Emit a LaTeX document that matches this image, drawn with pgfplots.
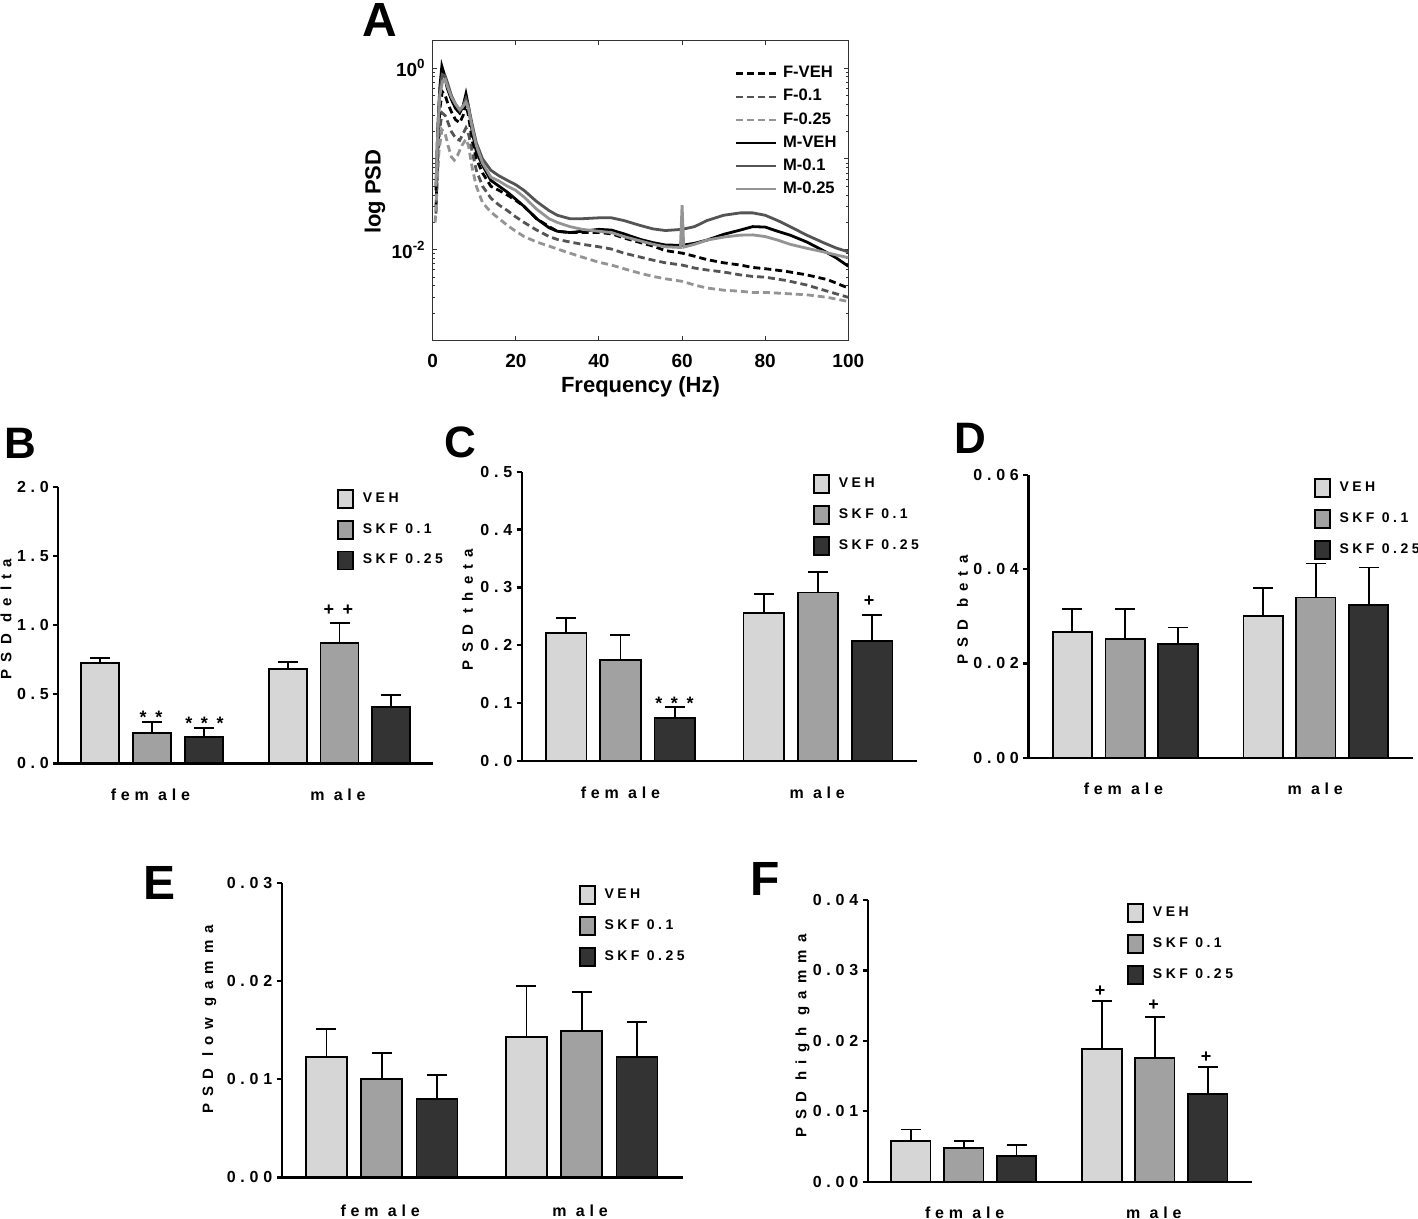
\documentclass[border=0pt]{standalone}
\usepackage{fontspec}
\setmainfont{Liberation Sans}
\newfontfamily\spacedfont[LetterSpace=30]{Liberation Sans}
\newfontfamily\legfont[LetterSpace=25]{Liberation Sans}
\newfontfamily\spacedlab[LetterSpace=48]{Liberation Sans}
\usepackage{pgfplots}
\pgfplotsset{compat=1.18}

\definecolor{cveh}{gray}{0.84}
\definecolor{csa}{gray}{0.63}
\definecolor{csb}{gray}{0.2}
\definecolor{dg}{gray}{0.33}
\definecolor{lg}{gray}{0.58}

\pgfplotsset{
  barleg/.style={legend image code/.code={\draw[##1, line width=0.9pt] (0pt,-4.5pt) rectangle (7.5pt,4.5pt);}},
  barpanel/.style={
    scale only axis, axis on top, clip=false,
    axis x line*=bottom, axis y line*=left,
    axis line style={line width=1.2pt, -},
    xtick=\empty, xmin=0.5, xmax=2.5,
    ymin=0, scaled y ticks=false,
    ytick style={line width=1.2pt, black},
    tick align=outside, major tick length=2.5pt,
    yticklabel style={font=\spacedfont\bfseries\fontsize{8}{9}\selectfont, inner sep=0pt, xshift=-2pt},
    legend style={draw=none, fill=none, inner sep=0pt, anchor=north west, row sep=5.5pt,
      column sep=4.5pt, font=\legfont\bfseries\fontsize{7}{8}\selectfont, nodes={inner sep=0pt}},
    legend cell align=left,
    error bars/y dir=plus, error bars/y explicit,
    error bars/error bar style={line width=0.9pt, black},
    error bars/error mark options={rotate=90, mark size=5pt, line width=0.9pt, black},
  },
  bveh/.style={fill=cveh, draw=black, line width=0.9pt, barleg},
  bsa/.style={fill=csa, draw=black, line width=0.9pt, barleg},
  bsb/.style={fill=csb, draw=black, line width=0.9pt, barleg},
}

\begin{document}
\begin{tikzpicture}
\useasboundingbox (0pt,0pt) rectangle (709pt,-609.5pt);

% ---------------- Panel A ----------------
\begin{axis}[
  at={(216.35pt,-170.35pt)}, anchor=south west, scale only axis,
  width=207.8pt, height=150pt,
  xmin=0, xmax=100, ymode=log, ymin=1e-3, ymax=2,
  xtick={0,20,40,60,80,100}, xticklabels={0,20,40,60,80,100},
  ytick={0.001,0.01,0.1,1}, yticklabels={,10\textsuperscript{-2},,10\textsuperscript{0}},
  tick label style={font=\bfseries\fontsize{9.5}{11}\selectfont},
  xticklabel style={yshift=-3pt},
  axis line style={line width=0.5pt, black!80},
  tick style={line width=0.5pt, black!80},
  major tick length=2.2pt, minor tick length=1.3pt,
  legend style={at={(0.727,0.916)}, anchor=north west, draw=none, fill=none, inner sep=0pt,
    row sep=4.3pt, column sep=2.8pt, font=\bfseries\fontsize{8.3}{9}\selectfont, nodes={inner sep=0pt}},
  legend cell align=left,
  legend image code/.code={\draw[#1, line width=1.1pt] (0pt,0pt) -- (20pt,0pt);},
]
% F-VEH
\addplot[black, line width=1.4pt, dash pattern=on 3.5pt off 2pt] coordinates {
(0.8,0.03) (1.2,0.12) (1.7,0.35) (2.3,0.55) (3,0.5) (3.7,0.4) (4.5,0.33) (5.5,0.27) (6.5,0.25)
(7.3,0.3) (8,0.4) (8.6,0.3) (9.5,0.16) (10.5,0.1) (12,0.07) (14,0.05) (16,0.045) (18,0.04)
(20,0.035) (22,0.03) (25,0.022) (28,0.018) (30,0.016) (33,0.0155) (36,0.0155) (40,0.0155)
(43,0.015) (46,0.0135) (50,0.012) (53,0.011) (56,0.0098) (60,0.0092) (63,0.0085) (66,0.0078)
(70,0.0072) (74,0.0068) (77,0.0064) (80,0.0062) (85,0.0058) (90,0.0053) (95,0.0047) (100,0.0038)};
% F-0.1
\addplot[dg, line width=1.4pt, dash pattern=on 3.5pt off 2pt] coordinates {
(0.8,0.025) (1.2,0.09) (1.7,0.22) (2.3,0.32) (3,0.3) (3.7,0.25) (4.5,0.2) (5.5,0.17) (6.5,0.16)
(7.3,0.19) (8,0.22) (8.6,0.19) (9.5,0.12) (10.5,0.075) (12,0.05) (14,0.037) (16,0.031) (18,0.027)
(20,0.023) (22,0.02) (25,0.0165) (28,0.014) (30,0.013) (33,0.0122) (36,0.0115) (40,0.0108)
(43,0.0102) (46,0.0092) (50,0.0083) (53,0.0077) (56,0.0072) (60,0.0068) (63,0.0063) (66,0.006)
(70,0.0057) (74,0.0053) (77,0.0051) (80,0.005) (85,0.0046) (90,0.0041) (95,0.0035) (100,0.003)};
% F-0.25
\addplot[lg, line width=1.4pt, dash pattern=on 3.5pt off 2pt] coordinates {
(0.6,0.02) (1,0.045) (1.5,0.12) (2.2,0.21) (3,0.19) (3.7,0.14) (4.5,0.105) (5.2,0.097) (6,0.11)
(7,0.14) (8,0.165) (8.6,0.14) (9.5,0.08) (10.5,0.05) (12,0.033) (14,0.026) (16,0.022) (18,0.0185)
(20,0.016) (22,0.014) (25,0.0122) (28,0.011) (30,0.0102) (33,0.0092) (36,0.0083) (40,0.0073)
(43,0.0068) (46,0.0062) (50,0.0055) (53,0.0051) (56,0.0048) (60,0.0045) (63,0.0041) (66,0.0038)
(70,0.0036) (74,0.0035) (77,0.0034) (80,0.0034) (85,0.0033) (90,0.0032) (95,0.003) (100,0.0027)};
% M-VEH
\addplot[black, line width=1.4pt] coordinates {
(0.8,0.045) (1.2,0.2) (1.7,0.6) (2.2,1.05) (2.8,0.85) (3.5,0.6) (4.5,0.45) (5.5,0.36) (6.5,0.32)
(7.3,0.38) (8,0.52) (8.6,0.38) (9.5,0.2) (10.5,0.12) (12,0.085) (14,0.058) (16,0.05) (18,0.043)
(20,0.036) (22,0.03) (25,0.022) (28,0.0175) (30,0.016) (33,0.0155) (36,0.016) (40,0.0168)
(43,0.0165) (46,0.015) (50,0.013) (53,0.012) (56,0.0113) (60,0.0112) (63,0.0118) (66,0.0128)
(70,0.0148) (74,0.0165) (77,0.018) (80,0.0178) (83,0.016) (86,0.0145) (90,0.0122) (94,0.0098)
(97,0.0082) (100,0.0066)};
% M-0.1
\addplot[dg, line width=1.4pt] coordinates {
(0.8,0.05) (1.2,0.2) (1.7,0.55) (2.3,0.85) (3,0.82) (3.5,0.7) (4.5,0.5) (5.5,0.4) (6.5,0.34)
(7.3,0.38) (8,0.46) (8.6,0.38) (9.5,0.24) (10.5,0.15) (12,0.1) (14,0.075) (16,0.065) (18,0.058)
(20,0.052) (22,0.045) (25,0.034) (28,0.027) (30,0.024) (33,0.022) (36,0.022) (40,0.0225)
(43,0.0225) (46,0.021) (50,0.0185) (53,0.017) (56,0.0163) (60,0.0168) (63,0.018) (66,0.021)
(70,0.024) (74,0.0255) (77,0.0255) (80,0.024) (83,0.021) (86,0.018) (90,0.0145) (94,0.012)
(97,0.0105) (100,0.0095)};
% M-0.25
\addplot[lg, line width=1.4pt] coordinates {
(0.8,0.05) (1.2,0.18) (1.7,0.5) (2.4,0.72) (3,0.75) (3.7,0.6) (4.5,0.48) (5.5,0.4) (6.5,0.35)
(7.3,0.38) (8,0.42) (8.6,0.36) (9.5,0.22) (10.5,0.14) (12,0.09) (14,0.063) (16,0.057) (18,0.05)
(20,0.045) (22,0.038) (25,0.028) (28,0.022) (30,0.02) (33,0.018) (36,0.0168) (40,0.016)
(43,0.0155) (46,0.014) (50,0.0125) (53,0.0115) (56,0.0108) (59.6,0.0106) (60,0.031) (60.4,0.0107)
(63,0.0115) (66,0.0128) (70,0.0138) (74,0.0145) (77,0.0146) (80,0.014) (83,0.0128) (86,0.0115)
(90,0.0104) (94,0.0095) (97,0.0088) (100,0.0082)};
\legend{F-VEH,F-0.1,F-0.25,M-VEH,M-0.1,M-0.25}
\end{axis}

% ---------------- Panel B ----------------
\begin{axis}[barpanel,
  at={(29.15pt,-381.65pt)}, anchor=south west, width=187.5pt, height=138.3pt,
  ymax=2, ytick={0,0.5,1,1.5,2}, yticklabels={0.0,0.5,1.0,1.5,2.0},
  ybar=6.85pt, bar width=19pt,
  legend style={at={(0.7424,0.9928)}},
]
\addplot[bveh] coordinates {(1,0.723) +- (0,0.036) (2,0.682) +- (0,0.048)};
\addplot[bsa] coordinates {(1,0.221) +- (0,0.080) (2,0.872) +- (0,0.145)};
\addplot[bsb] coordinates {(1,0.192) +- (0,0.061) (2,0.409) +- (0,0.085)};
\legend{VEH,SKF 0.1,SKF 0.25}
\end{axis}

% ---------------- Panel C ----------------
\begin{axis}[barpanel,
  at={(260.85pt,-380.35pt)}, anchor=south west, width=197.5pt, height=144.5pt,
  ymax=0.5, ytick={0,0.1,0.2,0.3,0.4,0.5}, yticklabels={0.0,0.1,0.2,0.3,0.4,0.5},
  ybar=6.9pt, bar width=20.25pt,
  legend style={at={(0.7367,0.993)}},
]
\addplot[bveh] coordinates {(1,0.2215) +- (0,0.025) (2,0.256) +- (0,0.032)};
\addplot[bsa] coordinates {(1,0.174) +- (0,0.043) (2,0.291) +- (0,0.035)};
\addplot[bsb] coordinates {(1,0.0744) +- (0,0.018) (2,0.207) +- (0,0.0445)};
\legend{VEH,SKF 0.1,SKF 0.25}
\end{axis}

% ---------------- Panel D ----------------
\begin{axis}[barpanel,
  at={(514.15pt,-378.85pt)}, anchor=south west, width=192.2pt, height=141.35pt,
  xmin=0.492, xmax=2.508,
  ymax=0.06, ytick={0,0.02,0.04,0.06}, yticklabels={0.00,0.02,0.04,0.06},
  ybar=6.75pt, bar width=19.65pt,
  legend style={at={(0.7414,0.9904)}},
]
\addplot[bveh] coordinates {(1,0.02675) +- (0,0.0048) (2,0.0301) +- (0,0.0059)};
\addplot[bsa] coordinates {(1,0.0252) +- (0,0.0064) (2,0.034) +- (0,0.0072)};
\addplot[bsb] coordinates {(1,0.02414) +- (0,0.0035) (2,0.03236) +- (0,0.008)};
\legend{VEH,SKF 0.1,SKF 0.25}
\end{axis}

% ---------------- Panel E ----------------
\begin{axis}[barpanel,
  at={(140.85pt,-588.65pt)}, anchor=south west, width=200.5pt, height=147.3pt,
  xmin=0.5, xmax=2.505,
  ymax=0.03, ytick={0,0.01,0.02,0.03}, yticklabels={0.00,0.01,0.02,0.03},
  ybar=7.15pt, bar width=20.5pt,
  legend style={at={(0.7397,0.9922)}},
]
\addplot[bveh] coordinates {(1,0.01228) +- (0,0.0028) (2,0.01432) +- (0,0.0052)};
\addplot[bsa] coordinates {(1,0.00998) +- (0,0.0027) (2,0.0149) +- (0,0.0040)};
\addplot[bsb] coordinates {(1,0.0080) +- (0,0.0024) (2,0.01228) +- (0,0.0035)};
\legend{VEH,SKF 0.1,SKF 0.25}
\end{axis}

% ---------------- Panel F ----------------
\begin{axis}[barpanel,
  at={(433.85pt,-590.85pt)}, anchor=south west, width=192pt, height=140.85pt,
  xmin=0.498, xmax=2.507,
  ymax=0.04, ytick={0,0.01,0.02,0.03,0.04}, yticklabels={0.00,0.01,0.02,0.03,0.04},
  ybar=6.7pt, bar width=19.75pt,
  legend style={at={(0.6745,0.99)}},
]
\addplot[bveh] coordinates {(1,0.00582) +- (0,0.0016) (2,0.01889) +- (0,0.0068)};
\addplot[bsa] coordinates {(1,0.00474) +- (0,0.0010) (2,0.01762) +- (0,0.0058)};
\addplot[bsb] coordinates {(1,0.00369) +- (0,0.0015) (2,0.0125) +- (0,0.0038)};
\legend{VEH,SKF 0.1,SKF 0.25}
\end{axis}

% ---------------- text ----------------
\tikzset{plet/.style={anchor=base, font=\bfseries\fontsize{22}{24}\selectfont},
  pletb/.style={anchor=base, font=\bfseries\fontsize{24}{26}\selectfont},
  ylab/.style={rotate=90, font=\spacedlab\bfseries\fontsize{7.5}{9}\selectfont, inner sep=0pt},
  glab/.style={anchor=base, font=\spacedfont\bfseries\fontsize{8}{9}\selectfont, inner sep=0pt},
  sig/.style={font=\spacedlab\bfseries\fontsize{9}{10}\selectfont, inner sep=0pt}}
\node[pletb] at (190pt,-18.35pt) {A};
\node[plet] at (10pt,-229.15pt) {B};
\node[plet] at (230.25pt,-228.5pt) {C};
\node[plet] at (485pt,-226.65pt) {D};
\node[pletb] at (80pt,-449.5pt) {E};
\node[pletb] at (382.5pt,-447.5pt) {F};

\node[rotate=90, font=\bfseries\fontsize{11}{13}\selectfont] at (187.5pt,-95.85pt) {log PSD};
\node[font=\bfseries\fontsize{11}{13}\selectfont] at (320.25pt,-193.35pt) {Frequency (Hz)};

\node[ylab] at (3pt,-309.5pt) {PSD delta};
\node[ylab] at (233.75pt,-304.75pt) {PSD theta};
\node[ylab] at (481.25pt,-305pt) {PSD beta};
\node[ylab] at (104.6pt,-509.6pt) {PSD low gamma};
\node[ylab] at (401.25pt,-517.9pt) {PSD high gamma};

\node[glab] at (75.2pt,-400pt) {fem ale};
\node[glab] at (169pt,-400pt) {m ale};
\node[glab] at (310.2pt,-399.15pt) {fem ale};
\node[glab] at (408.6pt,-399.15pt) {m ale};
\node[glab] at (561.7pt,-397pt) {fem ale};
\node[glab] at (657.6pt,-397pt) {m ale};
\node[glab] at (190.1pt,-608pt) {fem ale};
\node[glab] at (290pt,-608pt) {m ale};
\node[glab] at (482.3pt,-609pt) {fem ale};
\node[glab] at (576.9pt,-609pt) {m ale};

\node[sig] at (75.5pt,-358.5pt) {**};
\node[sig] at (102.2pt,-361.5pt) {***};
\node[sig] at (169.2pt,-305pt) {++};
\node[sig] at (337.2pt,-351.9pt) {***};
\node[sig] at (434.6pt,-300.85pt) {+};
\node[sig] at (550pt,-495.85pt) {+};
\node[sig] at (576.8pt,-502.85pt) {+};
\node[sig] at (603pt,-528.85pt) {+};
\end{tikzpicture}
\end{document}
